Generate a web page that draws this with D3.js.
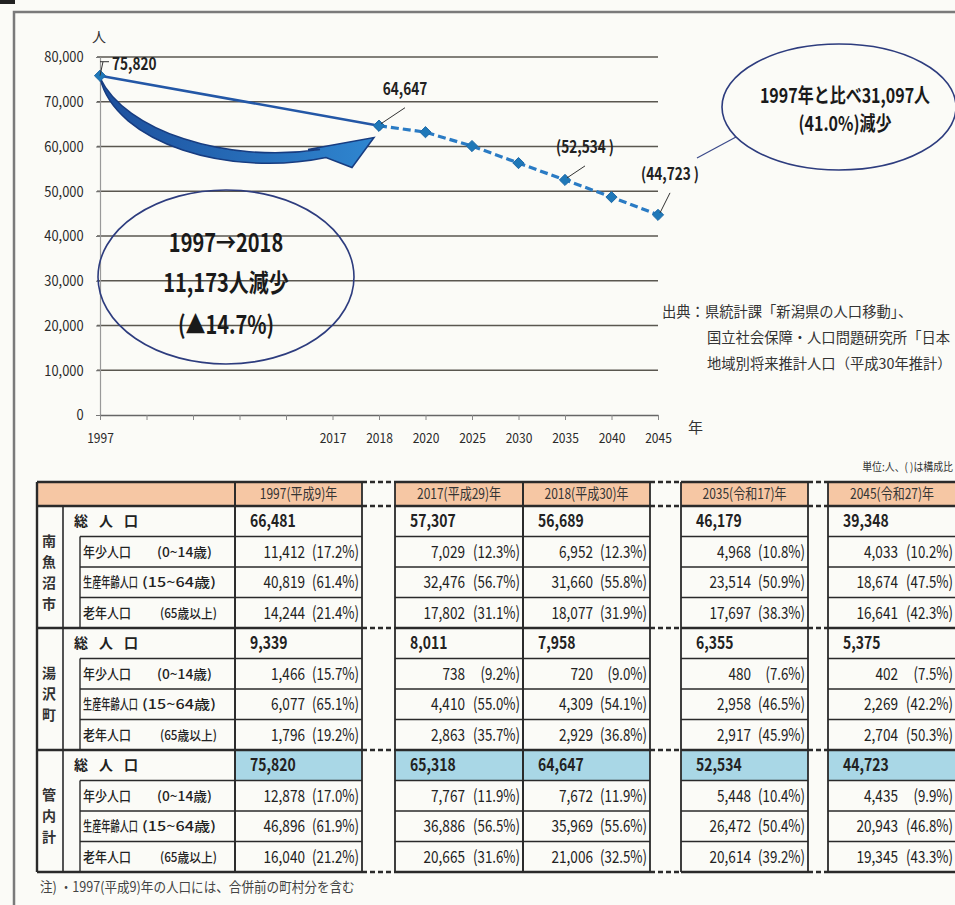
<!DOCTYPE html>
<html><head><meta charset="utf-8">
<script src="https://cdn.jsdelivr.net/npm/d3@7/dist/d3.min.js"></script>
<style>
html,body{margin:0;padding:0;background:#fbfbf7;}
svg{display:block;}
</style></head>
<body>
<svg id="c" width="955" height="905"></svg>
<script>
// ---------- chart data ----------
const xTickLabels = ["1997","","","","","2017","2018","2020","2025","2030","2035","2040","2045"];
const yTicks = [0,10000,20000,30000,40000,50000,60000,70000,80000];
const actualYears = ["1997","2018"];
const actualValues = [75820,64647];
const projYears = ["2018","2020","2025","2030","2035","2040","2045"];
const projValues = [64647,63200,60100,56300,52534,48700,44723];
const pointLabels = [["1997","75,820"],["2018","64,647"],["2035","(52,534 )"],["2045","(44,723 )"]];

// ---------- table data ----------
const tableColumns = ["1997(平成9)年","2017(平成29)年","2018(平成30)年","2035(令和17)年","2045(令和27)年"];
const regions = ["南魚沼市","湯沢町","管内計"];
const rowLabels = ["総人口","年少人口","生産年齢人口","老年人口"];
const rowAges = ["","(0~14歳)","(15~64歳)","(65歳以上)"];
const minamiTotal = [66481,57307,56689,46179,39348];
const minamiYoung = [11412,7029,6952,4968,4033];
const minamiYoungPct = [17.2,12.3,12.3,10.8,10.2];
const minamiWorking = [40819,32476,31660,23514,18674];
const minamiWorkingPct = [61.4,56.7,55.8,50.9,47.5];
const minamiOld = [14244,17802,18077,17697,16641];
const minamiOldPct = [21.4,31.1,31.9,38.3,42.3];
const yuzawaTotal = [9339,8011,7958,6355,5375];
const yuzawaYoung = [1466,738,720,480,402];
const yuzawaYoungPct = [15.7,9.2,9.0,7.6,7.5];
const yuzawaWorking = [6077,4410,4309,2958,2269];
const yuzawaWorkingPct = [65.1,55.0,54.1,46.5,42.2];
const yuzawaOld = [1796,2863,2929,2917,2704];
const yuzawaOldPct = [19.2,35.7,36.8,45.9,50.3];
const kannaiTotal = [75820,65318,64647,52534,44723];
const kannaiYoung = [12878,7767,7672,5448,4435];
const kannaiYoungPct = [17.0,11.9,11.9,10.4,9.9];
const kannaiWorking = [46896,36886,35969,26472,20943];
const kannaiWorkingPct = [61.9,56.5,55.6,50.4,46.8];
const kannaiOld = [16040,20665,21006,20614,19345];
const kannaiOldPct = [21.2,31.6,32.5,39.2,43.3];

const FONT = "'Noto Sans CJK JP','Noto Sans',sans-serif";
const svg = d3.select("#c");

// condensed text helper
function st(parent, x, y, txt, o={}){
  const sx = o.sx ?? 0.82;
  return parent.append("text")
    .attr("transform",`translate(${x},${y}) scale(${sx},1)`)
    .attr("text-anchor",o.anchor||"start")
    .attr("font-family",FONT).attr("font-size",o.size||14)
    .attr("font-weight",o.weight||"normal").attr("fill",o.fill||"#222")
    .attr("letter-spacing",o.ls||null)
    .text(txt);
}
// text squeezed to a target width via scale
function fit(parent, x, y, txt, w, o={}){
  const t = st(parent, x, y, txt, Object.assign({}, o, {sx:1}));
  const len = t.node().getComputedTextLength() || w;
  t.attr("transform",`translate(${x},${y}) scale(${w/len},1)`);
  return t;
}

// frame
svg.append("rect").attr("x",0).attr("y",0).attr("width",15).attr("height",4).attr("fill","#222");
svg.append("path").attr("d","M14,905 V12 H955").attr("fill","none").attr("stroke","#7a7a7a").attr("stroke-width",2.5);

// ---------- chart ----------
const x = d3.scalePoint().domain(d3.range(xTickLabels.length)).range([100,658]);
const y = d3.scaleLinear().domain([0,80000]).range([415,57]);
const xi = yr => x(xTickLabels.indexOf(yr));

const g = svg.append("g");
g.selectAll("line.grid").data(yTicks.filter(d=>d>0)).join("line")
  .attr("x1",97).attr("x2",658).attr("y1",d=>y(d)).attr("y2",d=>y(d))
  .attr("stroke","#5a5750").attr("stroke-width",1.6);
const yAxis = g.append("g").attr("transform","translate(100,0)")
  .call(d3.axisLeft(y).tickValues(yTicks).tickFormat(d3.format(",")).tickSize(4).tickSizeOuter(0));
yAxis.select(".domain").attr("stroke","#999").attr("stroke-width",1.2);
yAxis.selectAll(".tick line").attr("stroke","#777");
yAxis.selectAll("text").attr("font-family",FONT).attr("font-size",15).attr("fill","#2a2a2a")
  .attr("x",-19).attr("transform","scale(0.86,1)");
const xAxis = g.append("g").attr("transform","translate(0,415)")
  .call(d3.axisBottom(x).tickFormat(i=>xTickLabels[i]).tickSize(5).tickSizeOuter(0));
xAxis.select(".domain").attr("stroke","#666").attr("stroke-width",1.6);
xAxis.selectAll(".tick line").attr("stroke","#888");
xAxis.selectAll("text").attr("font-family",FONT).attr("font-size",14).attr("fill","#2a2a2a")
  .attr("dy","1.45em").attr("transform","scale(0.86,1)");

st(svg,92,42,"人",{size:14,sx:1,fill:"#333"});
st(svg,688,433,"年",{size:15,sx:1,fill:"#333"});

// curved arrow (anchored to data positions)
{
  const sx = xi("1997"), sy = y(actualValues[0]);
  const tx = xi("2018") - 5, ty = y(62000);
  const p = d3.path();
  p.moveTo(sx, sy+2);
  p.bezierCurveTo(sx+15, sy+68, sx+130, sy+102, tx-48, ty+20);
  p.lineTo(tx-22, ty+30);
  p.lineTo(tx, ty);
  p.lineTo(tx-66, ty+12);
  p.lineTo(tx-54, ty+12);
  p.bezierCurveTo(sx+125, sy+88, sx+25, sy+55, sx, sy+2);
  p.closePath();
  const defs = svg.append("defs");
  const lg = defs.append("linearGradient").attr("id","ag").attr("x1","0").attr("y1","0").attr("x2","1").attr("y2","0");
  lg.append("stop").attr("offset","0").attr("stop-color","#1d4f9c");
  lg.append("stop").attr("offset","1").attr("stop-color","#2f86d0");
  svg.append("path").attr("d",p.toString()).attr("fill","url(#ag)").attr("stroke","#173c80").attr("stroke-width",1.5);
}

// lines
const line = d3.line().x(d=>xi(d[0])).y(d=>y(d[1]));
const actual = actualYears.map((yr,i)=>[yr,actualValues[i]]);
const proj = projYears.map((yr,i)=>[yr,projValues[i]]);
svg.append("path").attr("d",line(actual)).attr("fill","none").attr("stroke","#2357a6").attr("stroke-width",2.6);
svg.append("path").attr("d",line(proj)).attr("fill","none").attr("stroke","#2a7bc4").attr("stroke-width",3.2).attr("stroke-dasharray","8,4");
const sym = d3.symbol().type(d3.symbolDiamond2).size(80);
svg.selectAll("path.mk").data(actual.concat(proj)).join("path")
  .attr("transform",d=>`translate(${xi(d[0])},${y(d[1])})`).attr("d",sym)
  .attr("fill","#1f78b8").attr("stroke","#1f6aa8").attr("stroke-width",1);

// point labels with leaders
const lblPos = {"1997":[12,-8,"start"],"2018":[26,-31,"middle"],"2035":[20,-27,"middle"],"2045":[12,-35,"middle"]};
pointLabels.forEach(([yr,txt])=>{
  const v = yr==="1997"?actualValues[0]:projValues[projYears.indexOf(yr)];
  const px = xi(yr), py = y(v), o = lblPos[yr];
  if(yr==="1997"){
    svg.append("path").attr("d",`M${px},${py} L${px+3},${py-14} M${px},${py-14} H${px+9}`).attr("stroke","#333").attr("fill","none").attr("stroke-width",1);
    st(svg,px+o[0],py-6,txt,{size:17,weight:"bold",sx:0.8});
  } else {
    svg.append("line").attr("x1",px+2).attr("y1",py-2).attr("x2",px+o[0]).attr("y2",py+o[1]+13)
      .attr("stroke","#333").attr("stroke-width",1);
    st(svg,px+o[0],py+o[1],txt,{size:17,weight:"bold",sx:0.8,anchor:o[2]});
  }
});

// ellipse 1
svg.append("ellipse").attr("cx",226).attr("cy",277).attr("rx",128).attr("ry",87)
  .attr("fill","none").attr("stroke","#2d3c7e").attr("stroke-width",1.6);
[["1997→2018",252],["11,173人減少",292],["(▲14.7%)",334]].forEach(([t,yy])=>{
  st(svg,226,yy,t,{size:25,weight:"bold",sx:0.8,anchor:"middle",fill:"#1a1a1a"});
});
// ellipse 2
svg.append("line").attr("x1",697).attr("y1",158).attr("x2",736).attr("y2",137).attr("stroke","#3b4a8a").attr("stroke-width",1.2);
svg.append("ellipse").attr("cx",839).attr("cy",107).attr("rx",117).attr("ry",63)
  .attr("fill","#fbfbf7").attr("stroke","#2d3c7e").attr("stroke-width",1.6);
[["1997年と比べ31,097人",103],["(41.0%)減少",131]].forEach(([t,yy])=>{
  st(svg,845,yy,t,{size:20,weight:"bold",sx:0.8,anchor:"middle",fill:"#1a1a1a"});
});

// source
[["出典：県統計課「新潟県の人口移動」、",662,317],["国立社会保障・人口問題研究所「日本",707,343],["地域別将来推計人口（平成30年推計）",707,369]].forEach(([t,xx,yy])=>{
  st(svg,xx,yy,t,{size:14.3,sx:1,fill:"#333"});
});

// ---------- table ----------
st(svg,953,471,"単位:人、( )は構成比",{size:11,anchor:"end",sx:0.9,fill:"#333"});

const cols = [[235,362],[395,523],[523,650],[681,808],[828,956]];
const gaps = [[362,395],[650,681],[808,828]];
const top0 = 482, headH = 24, rowH = 30.5;
const bodyTop = top0+headH;
const groupH = rowH*4;
const tBottom = bodyTop + groupH*3;
const LINE = "#2a2a2a";

const groupsData = [
  [minamiTotal,[minamiYoung,minamiYoungPct],[minamiWorking,minamiWorkingPct],[minamiOld,minamiOldPct]],
  [yuzawaTotal,[yuzawaYoung,yuzawaYoungPct],[yuzawaWorking,yuzawaWorkingPct],[yuzawaOld,yuzawaOldPct]],
  [kannaiTotal,[kannaiYoung,kannaiYoungPct],[kannaiWorking,kannaiWorkingPct],[kannaiOld,kannaiOldPct]]
];
const T = svg.append("g");
T.append("rect").attr("x",37).attr("y",top0).attr("width",235-37).attr("height",headH).attr("fill","#f6c7a4");
cols.forEach(c=>T.append("rect").attr("x",c[0]).attr("y",top0).attr("width",c[1]-c[0]).attr("height",headH).attr("fill","#f6c7a4"));
cols.forEach(c=>T.append("rect").attr("x",c[0]).attr("y",bodyTop+groupH*2).attr("width",c[1]-c[0]).attr("height",rowH).attr("fill","#a9d7e6"));
tableColumns.forEach((t,i)=>{
  st(T,(cols[i][0]+cols[i][1])/2,top0+17,t,{size:15,anchor:"middle",sx:0.8,fill:"#333"});
});
function hline(x1,x2,yy,w,dash){const l=T.append("line").attr("x1",x1).attr("x2",x2).attr("y1",yy).attr("y2",yy).attr("stroke",LINE).attr("stroke-width",w); if(dash) l.attr("stroke-dasharray",dash);}
function vline(xx,y1,y2,w){T.append("line").attr("x1",xx).attr("x2",xx).attr("y1",y1).attr("y2",y2).attr("stroke",LINE).attr("stroke-width",w);}
const majorYs = [top0, bodyTop, bodyTop+groupH, bodyTop+groupH*2, tBottom];
majorYs.forEach(yy=>{
  hline(37,235,yy,2.4);
  cols.forEach(c=>hline(c[0],c[1],yy,2.4));
  gaps.forEach(gp=>hline(gp[0],gp[1],yy,2.4,"5,3"));
});
for(let gi=0;gi<3;gi++){
  for(let r=1;r<4;r++){
    const yy = bodyTop+gi*groupH+r*rowH;
    hline(80,235,yy,1.6);
    cols.forEach(c=>hline(c[0],c[1],yy,1.6));
  }
  vline(80,bodyTop+gi*groupH+rowH,bodyTop+(gi+1)*groupH,1.4);
}
vline(37,top0,tBottom,2.4);
vline(63,bodyTop,tBottom,1.6);
vline(235,top0,tBottom,1.6);
cols.forEach(c=>{vline(c[0],top0,tBottom,1.8);vline(c[1],top0,tBottom,1.8);});

const labelX = [null,[83,48],[83,55],[83,48]];
const ageX = [null,[157,55],[142,74],[160,57]];
regions.forEach((rg,gi)=>{
  const chars = rg.split("");
  const cy = bodyTop+gi*groupH+groupH/2+4;
  chars.forEach((ch,k)=>{
    st(T,49,cy+(k-(chars.length-1)/2)*21+6,ch,{size:14,weight:"bold",anchor:"middle",sx:1,fill:"#333"});
  });
  rowLabels.forEach((lb,r)=>{
    const yy = bodyTop+gi*groupH+r*rowH+20;
    if(r===0){
      st(T,74,yy,lb,{size:14,weight:"bold",sx:1,ls:"11px"});
    } else {
      fit(T,labelX[r][0],yy,lb,labelX[r][1],{size:14,weight:500});
      fit(T,ageX[r][0],yy,rowAges[r],ageX[r][1],{size:13,weight:500});
    }
  });
  const gd = groupsData[gi];
  cols.forEach((c,ci)=>{
    st(T,c[0]+15,bodyTop+gi*groupH+21,d3.format(",")(gd[0][ci]),{size:17,weight:"bold",sx:0.82});
    for(let r=1;r<4;r++){
      const yy = bodyTop+gi*groupH+r*rowH+21;
      st(T,c[0]+70,yy,d3.format(",")(gd[r][0][ci]),{size:17,anchor:"end",sx:0.8});
      st(T,c[1]-3,yy,"("+d3.format(".1f")(gd[r][1][ci])+"%)",{size:17,anchor:"end",sx:0.78});
    }
  });
});

st(svg,40,892,"注)  ・1997(平成9)年の人口には、合併前の町村分を含む",{size:14,sx:0.9,fill:"#444"});
</script>
</body></html>
